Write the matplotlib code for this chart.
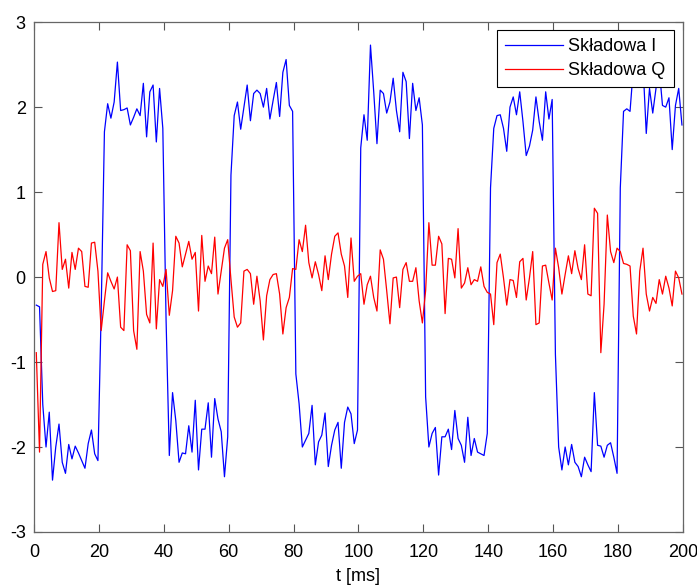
import matplotlib
matplotlib.use("Agg")
import matplotlib.pyplot as plt
import numpy as np

plt.rcParams['font.family'] = ['Liberation Sans', 'DejaVu Sans']
plt.rcParams['axes.unicode_minus'] = False

# sample times [ms], one sample per ms
t = np.arange(200) + 0.7

skladowa_i = [
    -0.33, -0.35, -1.50, -2.00, -1.59, -2.39, -2.00, -1.73, -2.18, -2.31,
    -1.97, -2.14, -1.99, -2.07, -2.16, -2.25, -1.96, -1.80, -2.08, -2.16,
    -0.40, 1.71, 2.04, 1.87, 2.06, 2.53, 1.96, 1.97, 1.99, 1.79,
    1.88, 1.98, 1.90, 2.28, 1.65, 2.18, 2.26, 1.59, 2.22, 1.75,
    -0.50, -2.10, -1.36, -1.69, -2.18, -2.07, -2.08, -1.75, -2.06, -1.45,
    -2.27, -1.79, -1.79, -1.48, -2.12, -1.43, -1.67, -1.82, -2.35, -1.88,
    1.20, 1.90, 2.06, 1.74, 2.00, 2.26, 1.84, 2.16, 2.20, 2.16,
    2.00, 2.22, 1.86, 2.08, 2.29, 1.89, 2.41, 2.56, 2.02, 1.95,
    -1.14, -1.49, -2.00, -1.92, -1.84, -1.51, -2.21, -1.94, -1.86, -1.60,
    -2.23, -1.98, -1.80, -1.71, -2.25, -1.71, -1.53, -1.61, -1.96, -1.80,
    1.52, 1.91, 1.61, 2.73, 2.18, 1.57, 2.20, 2.16, 1.93, 2.06,
    2.34, 1.96, 1.71, 2.41, 2.30, 1.63, 2.28, 1.96, 2.11, 1.79,
    -1.41, -2.00, -1.84, -1.77, -2.33, -1.88, -1.88, -1.79, -2.03, -1.57,
    -1.90, -1.98, -2.18, -1.65, -2.10, -1.90, -2.06, -2.08, -2.10, -1.84,
    1.05, 1.75, 1.90, 1.91, 1.75, 1.48, 2.00, 2.12, 1.91, 2.18,
    1.83, 1.43, 1.54, 1.73, 2.12, 1.83, 1.61, 2.18, 1.86, 2.09,
    -0.91, -2.00, -2.27, -2.00, -2.21, -1.97, -2.18, -2.23, -2.35, -2.12,
    -2.21, -2.29, -1.36, -1.98, -1.99, -2.12, -1.98, -1.95, -2.12, -2.31,
    1.05, 1.95, 1.98, 1.95, 2.45, 2.60, 2.30, 2.50, 1.69, 2.22,
    1.93, 2.22, 2.45, 2.02, 2.00, 2.11, 1.50, 2.02, 2.22, 1.79,
]

skladowa_q = [
    -0.89, -2.06, 0.15, 0.30, -0.01, -0.17, -0.16, 0.64, 0.09, 0.21,
    -0.13, 0.29, 0.09, 0.34, 0.30, -0.11, -0.12, 0.40, 0.41, 0.07,
    -0.63, -0.28, 0.05, -0.05, -0.14, 0.00, -0.59, -0.63, 0.38, 0.31,
    -0.63, -0.85, 0.30, 0.07, -0.44, -0.54, 0.40, -0.61, -0.03, -0.11,
    0.09, -0.45, -0.16, 0.48, 0.40, 0.12, 0.27, 0.42, 0.21, 0.29,
    -0.40, 0.49, -0.05, 0.13, 0.04, 0.47, -0.20, 0.07, 0.34, 0.44,
    -0.03, -0.47, -0.59, -0.54, 0.07, 0.09, 0.04, -0.32, 0.01, -0.28,
    -0.74, -0.22, -0.03, 0.03, 0.04, -0.20, -0.67, -0.36, -0.24, 0.10,
    0.09, 0.44, 0.30, 0.61, 0.17, -0.01, 0.18, 0.03, -0.16, 0.25,
    -0.03, 0.27, 0.48, 0.52, 0.27, 0.13, -0.24, 0.46, -0.05, 0.01,
    0.04, -0.32, -0.09, 0.01, -0.24, -0.40, 0.32, 0.21, -0.16, -0.55,
    -0.01, 0.00, -0.36, 0.09, 0.17, -0.05, -0.05, 0.11, -0.28, -0.54,
    -0.16, 0.64, 0.14, 0.14, 0.48, 0.39, -0.43, 0.22, 0.21, -0.01,
    0.57, -0.13, -0.07, 0.11, -0.09, -0.03, -0.05, 0.12, -0.11, -0.18,
    -0.20, -0.56, 0.17, 0.27, -0.01, -0.33, -0.03, -0.04, -0.24, 0.18,
    0.22, -0.27, -0.01, 0.30, -0.56, -0.54, 0.13, 0.14, -0.07, -0.27,
    0.34, 0.11, -0.20, 0.03, 0.25, 0.04, 0.31, 0.10, -0.03, 0.38,
    -0.20, -0.22, 0.81, 0.75, -0.89, -0.32, 0.73, 0.30, 0.17, 0.34,
    0.30, 0.16, 0.15, 0.13, -0.46, -0.67, 0.07, 0.34, -0.20, -0.40,
    -0.24, -0.31, -0.03, -0.20, 0.01, -0.13, -0.34, 0.07, -0.01, -0.20,
]

fig = plt.figure(figsize=(6.97, 5.86), dpi=100)
ax = fig.add_axes([0.0488, 0.0922, 0.931, 0.870])

ax.plot(t, skladowa_i, color='#0000ff', lw=0.9, label='Składowa I')
ax.plot(t, skladowa_q, color='#ff0000', lw=0.9, label='Składowa Q')

ax.set_xlim(0, 200)
ax.set_ylim(-3, 3)
ax.set_xticks(np.arange(0, 201, 20))
ax.set_yticks(np.arange(-3, 4, 1))
ax.tick_params(direction='in', top=True, right=True, labelsize=13, length=6,
               width=0.8, color='#555555')
ax.tick_params(axis='x', pad=9)
ax.tick_params(axis='y', pad=6)
for s in ax.spines.values():
    s.set_linewidth(0.9)
    s.set_color('#666666')
ax.set_xlabel('t [ms]', fontsize=13, labelpad=5)

leg = ax.legend(loc='upper right', fontsize=13, fancybox=False, framealpha=1,
                edgecolor='black', bbox_to_anchor=(0.986, 0.984), borderaxespad=0,
                handlelength=3.2, handletextpad=0.3, labelspacing=0.38,
                borderpad=0.45)
leg.get_frame().set_linewidth(0.8)

fig.savefig('out.png', dpi=100)
